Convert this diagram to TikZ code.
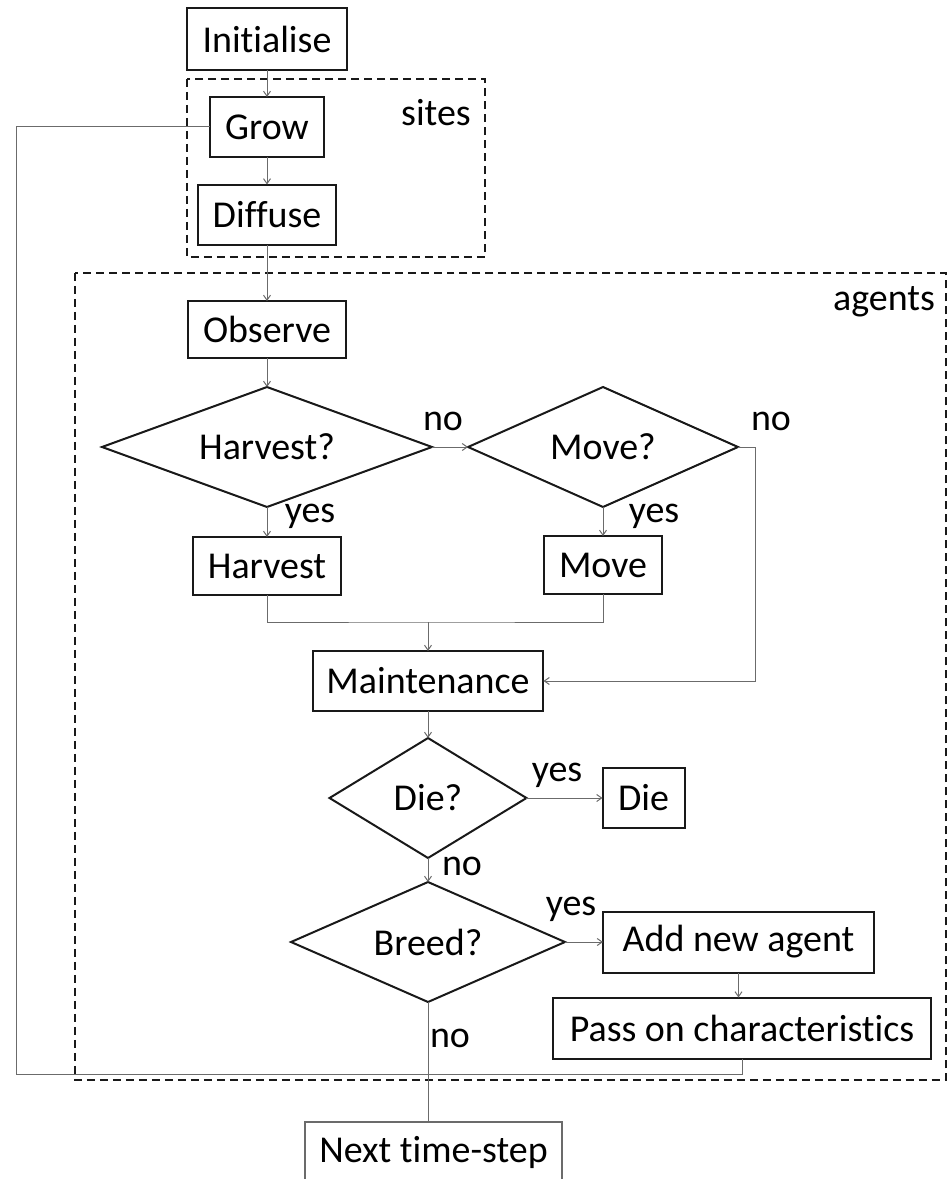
\documentclass[tikz,border=0pt]{standalone}
\usepackage{fontspec}
\setmainfont{Carlito}[Ligatures={NoCommon}]
\usepackage{xcolor}
\usepackage{tikz}
\usetikzlibrary{calc}
\usetikzlibrary{shapes.geometric}
\usetikzlibrary{arrows.meta}

\definecolor{boxline}{rgb}{0.100000,0.100000,0.100000}
\definecolor{flowline}{rgb}{0.420000,0.420000,0.420000}

\begin{document}
\begin{tikzpicture}[x=0.02cm, y=-0.02cm,
  procbox/.style={rectangle, draw=boxline, line width=0.04cm, inner sep=0pt, outer sep=0pt},
  testbox/.style={diamond, draw=boxline, line width=0.04cm, aspect=2.5, inner sep=0pt, outer sep=0pt},
  groupbox/.style={draw=boxline, line width=0.035cm, dash pattern=on 0.16cm off 0.1cm},
  flow/.style={draw=flowline, line width=0.02cm},
  flowarrow/.style={flow, -{Straight Barb[length=0.1cm,width=0.14cm]}},
  answer/.style={anchor=base}]
                        \path[use as bounding box, clip] (0,0) rectangle (948,1179);
                        {\fontsize{21.6}{26}\selectfont

                        % Drawing groups sites agents
                        \draw[groupbox] (187,79) rectangle (485,257);%
                        \draw[groupbox] (75,273) rectangle (946,1080);%
                        \node[answer] (sites) at (436,126) {sites};%
                        \node[answer] (agents) at (884,310) {agents};%

                        % Drawing boxes of column 1
                        \node[procbox, minimum width=3.22cm, minimum height=1.24cm] (init) at (267,39) {Initialise};%
                        \node[procbox, minimum width=2.30cm, minimum height=1.20cm] (grow) at (267,127) {Grow};%
                        \node[procbox, minimum width=2.78cm, minimum height=1.22cm] (diffuse) at (267,215) {Diffuse};%
                        \node[procbox, minimum width=3.18cm, minimum height=1.14cm] (observe) at (267,329.5) {Observe};%
                        \node[testbox, minimum width=6.60cm, minimum height=2.40cm] (harvestq) at (267,447) {Harvest?};%
                        \node[procbox, minimum width=2.98cm, minimum height=1.16cm] (harvestbox) at (267,566) {Harvest};%

                        % Drawing boxes of column 2
                        \node[testbox, minimum width=5.40cm, minimum height=2.40cm] (moveq) at (603,447) {Move?};%
                        \node[procbox, minimum width=2.38cm, minimum height=1.16cm] (movebox) at (603,565) {Move};%

                        % Drawing boxes of column 3
                        \node[procbox, minimum width=4.62cm, minimum height=1.20cm] (maint) at (428,681) {Maintenance};%
                        \node[testbox, minimum width=3.94cm, minimum height=2.40cm] (dieq) at (428,798) {Die?};%
                        \node[procbox, minimum width=1.64cm, minimum height=1.20cm] (diebox) at (643.5,798) {Die};%
                        \node[testbox, minimum width=5.48cm, minimum height=2.40cm] (breedq) at (428,942) {Breed?};%
                        \node[procbox, minimum width=5.42cm, minimum height=1.22cm] (addagent) at (738.5,942) {Add new agent};%
                        \node[procbox, minimum width=7.56cm, minimum height=1.22cm] (passon) at (742,1028) {Pass on characteristics};%
                        \node[procbox, draw=flowline, line width=0.03cm, minimum width=5.14cm, minimum height=1.20cm] (nextstep) at (433.5,1152) {Next time-step};%

                        % Marking coordinates of the joins
                        \coordinate (merge) at (428,622);%
                        \coordinate (bypass) at (755,447);%
                        \coordinate (loopleft) at (16,1074);%

                        % Drawing arrows
                        \draw[flowarrow] (init) -- (grow);%
                        \draw[flowarrow] (grow) -- (diffuse);%
                        \draw[flowarrow] (diffuse) -- (observe);%
                        \draw[flowarrow] (observe) -- (harvestq);%
                        \draw[flowarrow] (harvestq) -- (harvestbox);%
                        \draw[flowarrow] (harvestq) -- (moveq);%
                        \draw[flowarrow] (moveq) -- (movebox);%
                        \draw[flow] (harvestbox.south) |- (merge) -| (movebox.south);%
                        \draw[flowarrow] (merge) -- (maint.north);%
                        \draw[flowarrow] (moveq.east) -- (bypass) |- (maint.east);%
                        \draw[flowarrow] (maint) -- (dieq);%
                        \draw[flowarrow] (dieq) -- (diebox);%
                        \draw[flowarrow] (dieq) -- (breedq);%
                        \draw[flowarrow] (breedq) -- (addagent);%
                        \draw[flowarrow] (addagent.south) -- (addagent.south |- passon.north);%
                        \draw[flow] (breedq.south) -- (breedq.south |- nextstep.north);%
                        \draw[flow] (passon.south) -- (passon.south |- loopleft) -- (loopleft) |- (grow.west);%

                        % Marking answers
                        \node[answer] (noharvest) at (443,430) {no};%
                        \node[answer] (nomove) at (771,430) {no};%
                        \node[answer] (yesharvest) at (310,522) {yes};%
                        \node[answer] (yesmove) at (654,522) {yes};%
                        \node[answer] (yesdie) at (557,781) {yes};%
                        \node[answer] (nodie) at (462,875) {no};%
                        \node[answer] (yesbreed) at (571,915) {yes};%
                        \node[answer] (nobreed) at (450,1047) {no};%
                        }
                    \end{tikzpicture}
\end{document}
